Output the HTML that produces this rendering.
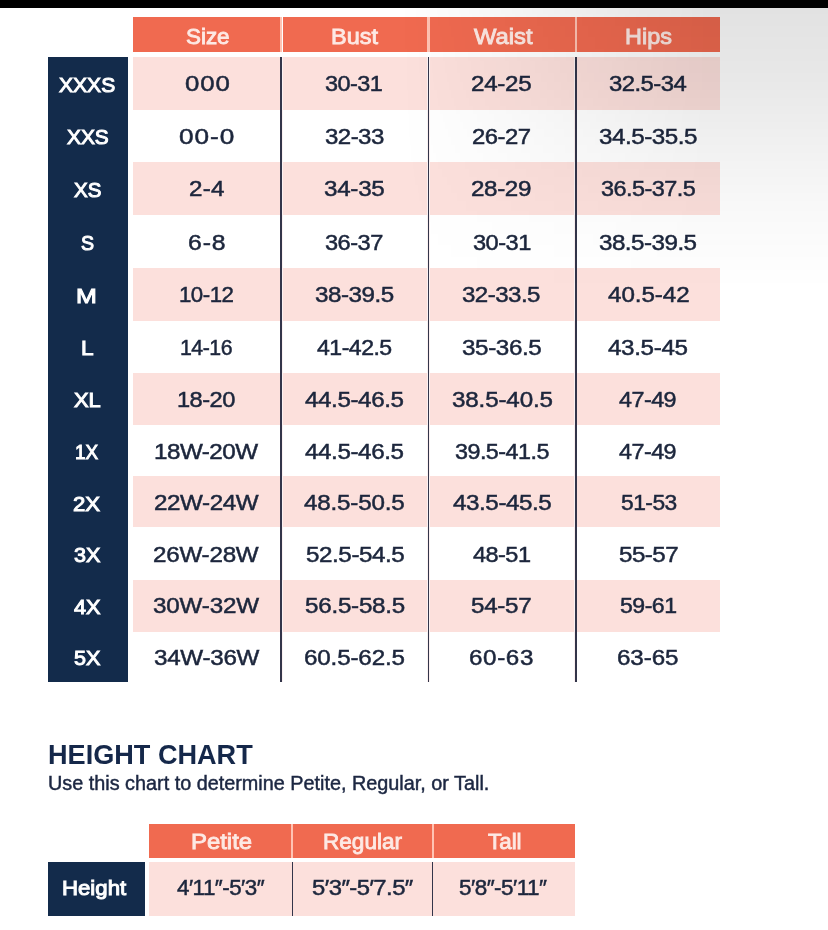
<!DOCTYPE html>
<html lang="en">
<head>
<meta charset="utf-8">
<title>Size Chart</title>
<style>
html,body{margin:0;padding:0;}
body{width:828px;height:930px;background:#fff;position:relative;overflow:hidden;
 font-family:"Liberation Sans",sans-serif;color:#1c263c;}
.a{position:absolute;}
.bar{background:#000;}
.nv{background:#132b4b;}
.og{background:#f06a50;}
.pk{background:#fce0dc;}
.hg{background:#ffc3b3;}
.t{position:absolute;margin:0;white-space:nowrap;line-height:40px;height:40px;transform-origin:0 0;font-weight:normal;}
.h{color:#fde9e4;font-size:21.8px;-webkit-text-stroke:0.85px #fde9e4;}
.s{color:#fff;font-size:20.9px;-webkit-text-stroke:1px #fff;}
.d{font-size:22.0px;-webkit-text-stroke:0.5px #1c263c;}
.hc{font-weight:bold;font-size:27.2px;color:#15284a;}
.hs{font-size:19.5px;color:#1c2742;-webkit-text-stroke:0.45px #1c2742;}
.ln{background:#33354a;}
.gp{background:#fbf1f1;}
.shade{pointer-events:none;
 background:linear-gradient(to bottom, rgba(0,0,0,0.115) 0%, rgba(0,0,0,0.09) 25%, rgba(0,0,0,0.055) 50%, rgba(0,0,0,0.028) 70%, rgba(0,0,0,0.01) 86%, rgba(0,0,0,0) 100%);
 -webkit-mask-image:linear-gradient(to right, rgba(0,0,0,0) 0%, rgba(0,0,0,1) 72%);
 mask-image:linear-gradient(to right, rgba(0,0,0,0) 0%, rgba(0,0,0,1) 72%);}
</style>
</head>
<body>
<div class="a bar" style="left:0.00px;top:0.00px;width:828.00px;height:7.60px"></div>
<main>
<section class="size-chart" aria-label="Size chart">
<div class="bands">
<div class="a og" style="left:133.00px;top:17.10px;width:147.20px;height:35.00px"></div>
<div class="a og" style="left:282.50px;top:17.10px;width:144.80px;height:35.00px"></div>
<div class="a og" style="left:429.50px;top:17.10px;width:145.50px;height:35.00px"></div>
<div class="a og" style="left:577.30px;top:17.10px;width:142.90px;height:35.00px"></div>
<div class="a hg" style="left:280.20px;top:17.10px;width:2.30px;height:35.00px"></div>
<div class="a hg" style="left:427.30px;top:17.10px;width:2.30px;height:35.00px"></div>
<div class="a hg" style="left:575.00px;top:17.10px;width:2.30px;height:35.00px"></div>
<div class="a nv" style="left:47.80px;top:57.40px;width:80.20px;height:624.30px"></div>
<div class="a pk" style="left:133.00px;top:57.40px;width:587.20px;height:52.60px"></div>
<div class="a pk" style="left:133.00px;top:162.30px;width:587.20px;height:52.30px"></div>
<div class="a pk" style="left:133.00px;top:267.90px;width:587.20px;height:53.00px"></div>
<div class="a pk" style="left:133.00px;top:373.20px;width:587.20px;height:51.50px"></div>
<div class="a pk" style="left:133.00px;top:476.00px;width:587.20px;height:51.40px"></div>
<div class="a pk" style="left:133.00px;top:579.60px;width:587.20px;height:52.00px"></div>
<div class="a gp" style="left:279.50px;top:57.40px;width:3.10px;height:624.30px"></div>
<div class="a ln" style="left:280.40px;top:57.40px;width:1.25px;height:624.30px"></div>
<div class="a gp" style="left:426.80px;top:57.40px;width:3.10px;height:624.30px"></div>
<div class="a ln" style="left:427.70px;top:57.40px;width:1.25px;height:624.30px"></div>
<div class="a gp" style="left:574.40px;top:57.40px;width:3.10px;height:624.30px"></div>
<div class="a ln" style="left:575.30px;top:57.40px;width:1.25px;height:624.30px"></div>
</div>
<div class="thead"><div class="t h" style="left:185.69px;top:16.90px;transform:scaleX(1.0279)">Size</div><div class="t h" style="left:330.85px;top:16.90px;transform:scaleX(1.0760)">Bust</div><div class="t h" style="left:473.74px;top:16.90px;transform:scaleX(1.0899)">Waist</div><div class="t h" style="left:624.55px;top:16.90px;transform:scaleX(1.0762)">Hips</div></div>
<div class="row"><div class="t s" style="left:59.20px;top:64.72px;transform:scaleX(1.0081)">XXXS</div><div class="t d" style="left:184.51px;top:64.20px;letter-spacing:0.80px;transform:scaleX(1.1725)">000</div><div class="t d" style="left:325.47px;top:64.20px;letter-spacing:-0.50px;transform:scaleX(1.0660)">30-31</div><div class="t d" style="left:471.28px;top:64.20px;letter-spacing:-0.26px;transform:scaleX(1.1000)">24-25</div><div class="t d" style="left:609.26px;top:64.20px;letter-spacing:-0.50px;transform:scaleX(1.0855)">32.5-34</div></div>
<div class="row"><div class="t s" style="left:66.50px;top:117.12px;transform:scaleX(0.9988)">XXS</div><div class="t d" style="left:179.41px;top:116.60px;letter-spacing:0.80px;transform:scaleX(1.1894)">00-0</div><div class="t d" style="left:325.15px;top:116.60px;letter-spacing:-0.50px;transform:scaleX(1.0925)">32-33</div><div class="t d" style="left:471.99px;top:116.60px;letter-spacing:-0.50px;transform:scaleX(1.0863)">26-27</div><div class="t d" style="left:599.05px;top:116.60px;letter-spacing:-0.43px;transform:scaleX(1.1000)">34.5-35.5</div></div>
<div class="row"><div class="t s" style="left:73.89px;top:169.82px;transform:scaleX(0.9821)">XS</div><div class="t d" style="left:188.98px;top:169.30px;letter-spacing:0.26px;transform:scaleX(1.1000)">2-4</div><div class="t d" style="left:324.35px;top:169.30px;letter-spacing:-0.25px;transform:scaleX(1.1000)">34-35</div><div class="t d" style="left:471.28px;top:169.30px;letter-spacing:-0.35px;transform:scaleX(1.1000)">28-29</div><div class="t d" style="left:600.87px;top:169.30px;letter-spacing:-0.50px;transform:scaleX(1.0655)">36.5-37.5</div></div>
<div class="row"><div class="t s" style="left:80.83px;top:223.22px;transform:scaleX(0.9385)">S</div><div class="t d" style="left:188.26px;top:222.70px;letter-spacing:0.80px;transform:scaleX(1.1240)">6-8</div><div class="t d" style="left:325.46px;top:222.70px;letter-spacing:-0.50px;transform:scaleX(1.0736)">36-37</div><div class="t d" style="left:472.66px;top:222.70px;letter-spacing:-0.50px;transform:scaleX(1.0736)">30-31</div><div class="t d" style="left:599.45px;top:222.70px;letter-spacing:-0.48px;transform:scaleX(1.1000)">38.5-39.5</div></div>
<div class="row"><div class="t s" style="left:76.41px;top:275.53px;transform:scaleX(1.1933)">M</div><div class="t d" style="left:179.18px;top:275.00px;letter-spacing:-0.50px;transform:scaleX(1.0115)">10-12</div><div class="t d" style="left:314.95px;top:275.00px;letter-spacing:-0.45px;transform:scaleX(1.1000)">38-39.5</div><div class="t d" style="left:462.45px;top:275.00px;letter-spacing:-0.50px;transform:scaleX(1.0950)">32-33.5</div><div class="t d" style="left:607.73px;top:275.00px;letter-spacing:-0.07px;transform:scaleX(1.1000)">40.5-42</div></div>
<div class="row"><div class="t s" style="left:81.05px;top:328.33px;transform:scaleX(1.0829)">L</div><div class="t d" style="left:180.35px;top:327.80px;letter-spacing:-0.50px;transform:scaleX(0.9692)">14-16</div><div class="t d" style="left:317.04px;top:327.80px;letter-spacing:-0.50px;transform:scaleX(1.0502)">41-42.5</div><div class="t d" style="left:461.75px;top:327.80px;letter-spacing:-0.34px;transform:scaleX(1.1000)">35-36.5</div><div class="t d" style="left:608.43px;top:327.80px;letter-spacing:-0.32px;transform:scaleX(1.1000)">43.5-45</div></div>
<div class="row"><div class="t s" style="left:74.42px;top:380.23px;transform:scaleX(1.0485)">XL</div><div class="t d" style="left:177.29px;top:379.70px;letter-spacing:-0.50px;transform:scaleX(1.0756)">18-20</div><div class="t d" style="left:305.43px;top:379.70px;letter-spacing:-0.37px;transform:scaleX(1.1000)">44.5-46.5</div><div class="t d" style="left:451.65px;top:379.70px;letter-spacing:-0.15px;transform:scaleX(1.1000)">38.5-40.5</div><div class="t d" style="left:619.33px;top:379.70px;letter-spacing:-0.50px;transform:scaleX(1.0610)">47-49</div></div>
<div class="row"><div class="t s" style="left:75.20px;top:432.12px;transform:scaleX(0.9040)">1X</div><div class="t d" style="left:153.75px;top:431.60px;letter-spacing:-0.47px;transform:scaleX(1.1000)">18W-20W</div><div class="t d" style="left:305.43px;top:431.60px;letter-spacing:-0.37px;transform:scaleX(1.1000)">44.5-46.5</div><div class="t d" style="left:454.57px;top:431.60px;letter-spacing:-0.50px;transform:scaleX(1.0610)">39.5-41.5</div><div class="t d" style="left:619.33px;top:431.60px;letter-spacing:-0.50px;transform:scaleX(1.0610)">47-49</div></div>
<div class="row"><div class="t s" style="left:73.37px;top:483.83px;transform:scaleX(1.0588)">2X</div><div class="t d" style="left:153.78px;top:483.30px;letter-spacing:-0.37px;transform:scaleX(1.1000)">22W-24W</div><div class="t d" style="left:304.33px;top:483.30px;letter-spacing:-0.17px;transform:scaleX(1.1000)">48.5-50.5</div><div class="t d" style="left:452.62px;top:483.30px;letter-spacing:-0.39px;transform:scaleX(1.1000)">43.5-45.5</div><div class="t d" style="left:620.62px;top:483.30px;letter-spacing:-0.50px;transform:scaleX(1.0370)">51-53</div></div>
<div class="row"><div class="t s" style="left:73.64px;top:535.23px;transform:scaleX(1.0330)">3X</div><div class="t d" style="left:153.48px;top:534.70px;letter-spacing:-0.22px;transform:scaleX(1.1000)">26W-28W</div><div class="t d" style="left:305.57px;top:534.70px;letter-spacing:-0.39px;transform:scaleX(1.1000)">52.5-54.5</div><div class="t d" style="left:472.93px;top:534.70px;letter-spacing:-0.50px;transform:scaleX(1.0685)">48-51</div><div class="t d" style="left:618.78px;top:534.70px;letter-spacing:-0.50px;transform:scaleX(1.0976)">55-57</div></div>
<div class="row"><div class="t s" style="left:73.90px;top:586.73px;transform:scaleX(1.0385)">4X</div><div class="t d" style="left:153.05px;top:586.20px;letter-spacing:-0.15px;transform:scaleX(1.1000)">30W-32W</div><div class="t d" style="left:304.88px;top:586.20px;letter-spacing:-0.23px;transform:scaleX(1.1000)">56.5-58.5</div><div class="t d" style="left:471.28px;top:586.20px;letter-spacing:-0.26px;transform:scaleX(1.1000)">54-57</div><div class="t d" style="left:619.91px;top:586.20px;letter-spacing:-0.50px;transform:scaleX(1.0502)">59-61</div></div>
<div class="row"><div class="t s" style="left:74.04px;top:638.43px;transform:scaleX(1.0330)">5X</div><div class="t d" style="left:153.75px;top:637.90px;letter-spacing:-0.26px;transform:scaleX(1.1000)">34W-36W</div><div class="t d" style="left:304.18px;top:637.90px;letter-spacing:-0.15px;transform:scaleX(1.1000)">60.5-62.5</div><div class="t d" style="left:469.48px;top:637.90px;letter-spacing:0.56px;transform:scaleX(1.1000)">60-63</div><div class="t d" style="left:617.27px;top:637.90px;letter-spacing:-0.10px;transform:scaleX(1.1000)">63-65</div></div>
</section>
<section class="height-chart" aria-label="Height chart">
<h2 class="t hc" style="left:47.96px;top:735.12px;transform:scaleX(0.9966)">HEIGHT CHART</h2>
<p class="t hs" style="left:48.43px;top:763.23px;transform:scaleX(1.0162)">Use this chart to determine Petite, Regular, or Tall.</p>
<div class="bands">
<div class="a og" style="left:149.40px;top:824.20px;width:425.80px;height:33.70px"></div>
<div class="a pk" style="left:149.40px;top:861.60px;width:425.80px;height:54.00px"></div>
<div class="a hg" style="left:291.40px;top:824.20px;width:2.00px;height:33.70px"></div>
<div class="a ln" style="left:291.70px;top:861.60px;width:1.30px;height:54.00px"></div>
<div class="a hg" style="left:431.80px;top:824.20px;width:2.00px;height:33.70px"></div>
<div class="a ln" style="left:432.10px;top:861.60px;width:1.30px;height:54.00px"></div>
<div class="a nv" style="left:47.60px;top:861.70px;width:97.10px;height:54.00px"></div>
</div>
<div class="thead"><div class="t h" style="left:190.83px;top:822.20px;transform:scaleX(1.0963)">Petite</div><div class="t h" style="left:322.51px;top:822.20px;transform:scaleX(1.0352)">Regular</div><div class="t h" style="left:487.90px;top:822.20px;transform:scaleX(1.0268)">Tall</div></div>
<div class="row"><div class="t s" style="left:62.37px;top:868.23px;transform:scaleX(1.0622)">Height</div><div class="t d" style="left:176.75px;top:867.70px;letter-spacing:-0.50px;transform:scaleX(1.0169)">4′11″-5′3″</div><div class="t d" style="left:312.49px;top:867.70px;letter-spacing:-0.50px;transform:scaleX(1.0843)">5′3″-5′7.5″</div><div class="t d" style="left:459.23px;top:867.70px;letter-spacing:-0.50px;transform:scaleX(1.0205)">5′8″-5′11″</div></div>
</section>
</main>
<div class="a shade" style="left:400.00px;top:7.60px;width:428.00px;height:282.40px"></div>
</body>
</html>
